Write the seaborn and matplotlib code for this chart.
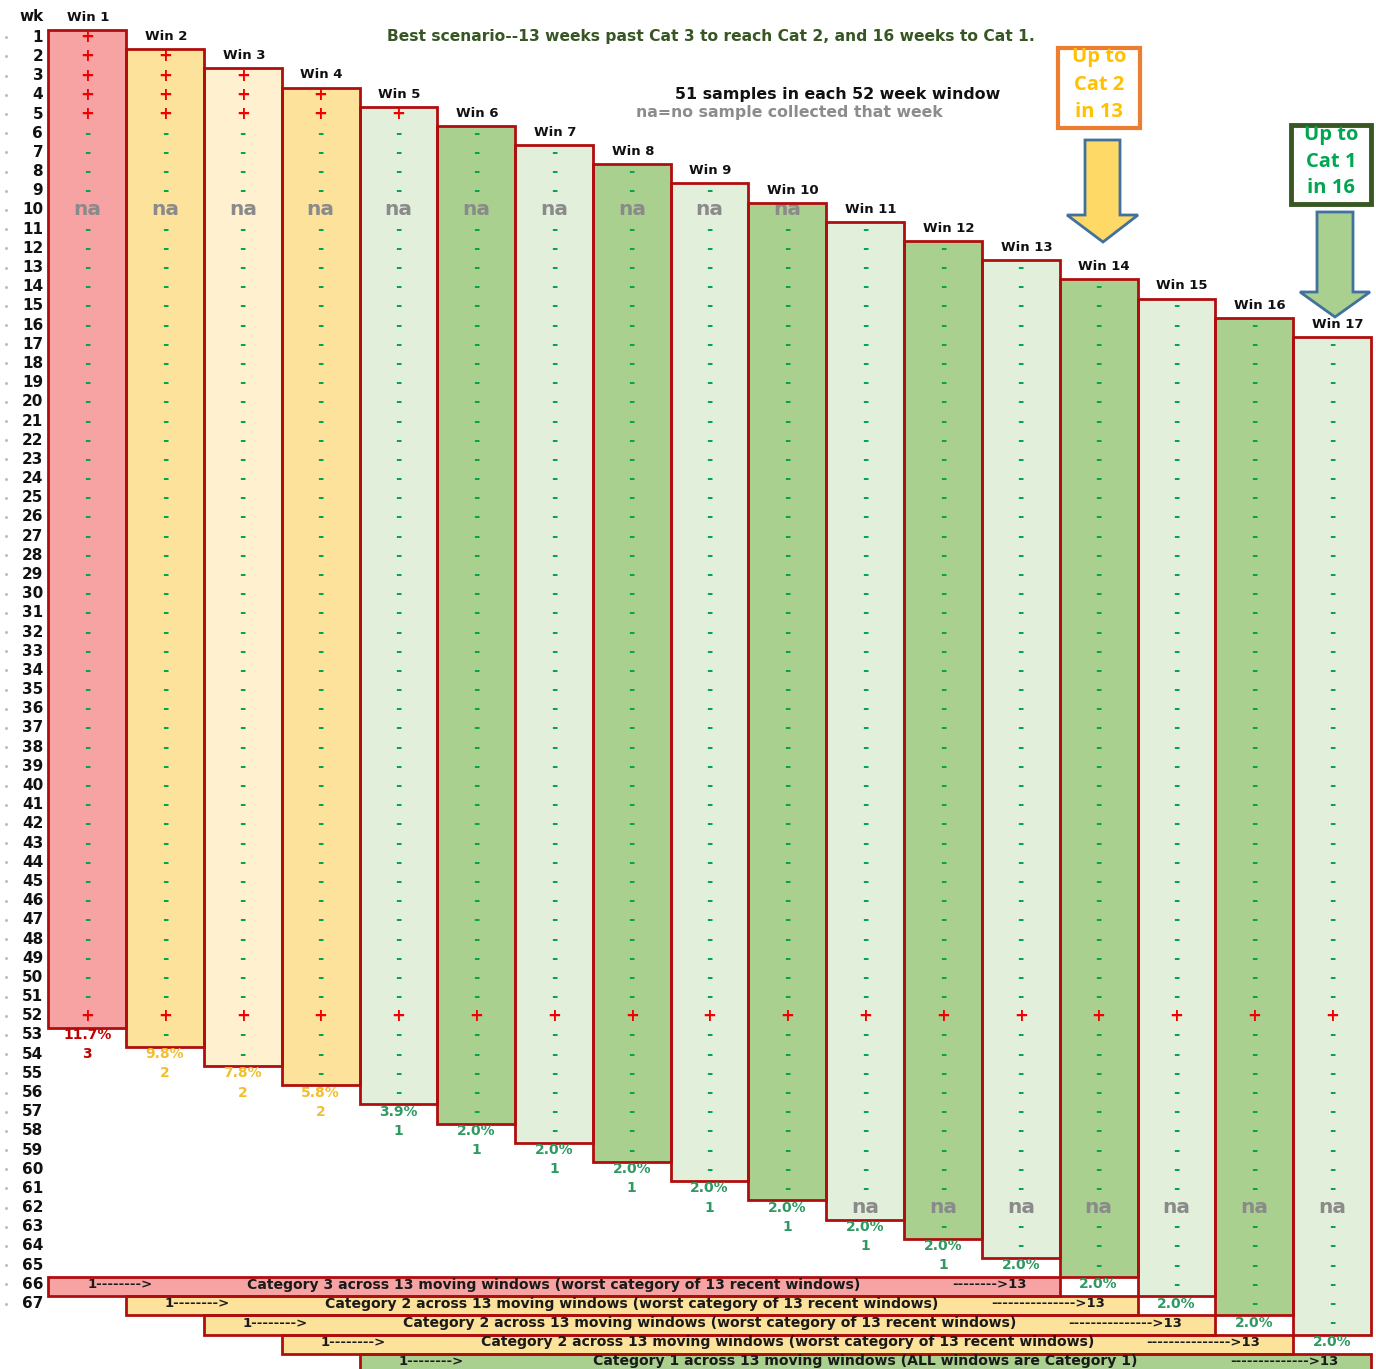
import numpy as np
import matplotlib
matplotlib.use("Agg")
import matplotlib.pyplot as plt
from matplotlib.colors import ListedColormap
from matplotlib.patches import Rectangle, Polygon
import seaborn as sns

# rows = weeks, columns = 52 week moving windows
n_rows = 70
week_labels = list(range(1, 68))
window_names = [f"Win {i}" for i in range(1, 18)]
window_len = 52
positive_weeks = [1, 2, 3, 4, 5, 52]
na_weeks = [10, 62]

pct_labels = ["11.7%", "9.8%", "7.8%", "5.8%", "3.9%"] + ["2.0%"] * 12
cat_labels = ["3", "2", "2", "2", "1"] + ["1"] * 12
window_fill = [0, 1, 2, 1, 3, 4, 3, 4, 3, 4, 3, 4, 3, 4, 3, 4, 3]
pct_color = ["#C00000", "#F2BE2E", "#F2BE2E", "#F2BE2E"] + ["#2E9A62"] * 13

band_fill = [0, 1, 1, 1, 4]
band_text = [
    "Category 3 across 13 moving windows (worst category of 13 recent windows)",
    "Category 2 across 13 moving windows (worst category of 13 recent windows)",
    "Category 2 across 13 moving windows (worst category of 13 recent windows)",
    "Category 2 across 13 moving windows (worst category of 13 recent windows)",
    "Category 1 across 13 moving windows (ALL windows are Category 1)",
]
band_start = "1-------->"
band_end = ["-------->13", "--------------->13", "--------------->13",
            "--------------->13", "-------------->13"]
band_span = 13

palette = ["#F7A3A3", "#FDE29C", "#FFF1CF", "#E2EFDA", "#A9D08E"]
border = "#B00E0E"

# build cell colours and marks
fill = np.full((n_rows, len(window_names)), np.nan)
marks = np.full(fill.shape, "", dtype=object)
for c in range(len(window_names)):
    for r in range(c, c + window_len):
        wk = r + 1
        fill[r, c] = window_fill[c]
        if wk in positive_weeks:
            marks[r, c] = "+"
        elif wk in na_weeks:
            marks[r, c] = "na"
        else:
            marks[r, c] = "-"
for b in range(len(band_text)):
    fill[65 + b, b:b + band_span] = band_fill[b]

W, H = 1376, 1369
fig = plt.figure(figsize=(W / 100, H / 100), dpi=100)
ax = fig.add_axes([48.3 / W, (H - 1373) / H, 1322.6 / W, 1343 / H])

sns.heatmap(fill, cmap=ListedColormap(palette), vmin=-0.5, vmax=4.5, cbar=False,
            annot=marks, fmt="", xticklabels=False, yticklabels=False, ax=ax)
ax.axis("off")

for t in ax.texts:
    s = t.get_text()
    x, y = t.get_position()
    t.set_position((x, y - 0.12))
    t.set_fontweight("bold")
    if s == "+":
        t.set_color("#F00000")
        t.set_fontsize(12)
    elif s == "-":
        t.set_color("#00A650")
        t.set_fontsize(11)
    elif s == "na":
        t.set_color("#8A8A8A")
        t.set_fontsize(14.5)

# window borders, headers, percentages
for c, name in enumerate(window_names):
    ax.add_patch(Rectangle((c, c), 1, window_len, fill=False, ec=border, lw=2, zorder=3,
                           clip_on=False))
    ax.text(c + 0.24, c - 0.66, name, ha="left", va="center", fontsize=9.5,
            fontweight="bold", color="#111111")
    for r, s in [(c + window_len, pct_labels[c]), (c + window_len + 1, cat_labels[c])]:
        if r < n_rows and np.isnan(fill[r, c]):
            ax.text(c + 0.5, r + 0.38, s, ha="center", va="center", fontsize=10,
                    fontweight="bold", color=pct_color[c])

# category bands
for b, txt in enumerate(band_text):
    r = 65 + b
    ax.add_patch(Rectangle((b, r), band_span, 1, fill=False, ec=border, lw=2, zorder=3,
                           clip_on=False))
    kw = dict(va="center", fontsize=9.5, fontweight="bold", color="#1A1A1A")
    ax.text(b + 0.5, r + 0.4, band_start, ha="left", **kw)
    ax.text(b + band_span / 2, r + 0.4, txt, ha="center",
            **{**kw, "fontsize": 10.1})
    ax.text(b + band_span - 0.42, r + 0.4, band_end[b], ha="right", **kw)

# week numbers
for w in week_labels:
    ax.text(-0.065, w - 1 + 0.38, str(w), ha="right", va="center", fontsize=11,
            fontweight="bold", color="#111111")
    ax.plot([-0.55], [w - 1 + 0.38], marker="s", ms=1, color="#BBBBBB", clip_on=False)
ax.text(-0.065, -0.68, "wk", ha="right", va="center", fontsize=11,
        fontweight="bold", color="#111111")

# annotations in pixel coordinates
ov = fig.add_axes([0, 0, 1, 1], zorder=5)
ov.set_xlim(0, W)
ov.set_ylim(H, 0)
ov.axis("off")
ov.patch.set_alpha(0)

ov.text(711, 37, "Best scenario--13 weeks past Cat 3 to reach Cat 2, and 16 weeks to Cat 1.",
        ha="center", va="center", fontsize=11.2, fontweight="bold", color="#375623")
ov.text(838, 95, "51 samples in each 52 week window", ha="center", va="center",
        fontsize=11.4, fontweight="bold", color="#111111")
ov.text(789, 113, "na=no sample collected that week", ha="center", va="center",
        fontsize=11.3, fontweight="semibold", color="#8C8C8C")

ov.add_patch(Rectangle((1058, 48), 82, 80, fill=False, ec="#ED7D31", lw=3))
for y, s in zip([57, 85, 112], ["Up to", "Cat 2", "in 13"]):
    ov.text(1099, y, s, ha="center", va="center", fontsize=14.5, fontweight="bold",
            color="#FFC000", family="Open Sans")
ov.add_patch(Polygon([(1085, 140), (1120, 140), (1120, 215), (1138, 215), (1103, 242),
                      (1067, 215), (1085, 215)], closed=True, fc="#FFD966", ec="#41719C", lw=2))

ov.add_patch(Rectangle((1291, 125), 80, 79, fill=False, ec="#385723", lw=3.5))
for y, s in zip([135, 162, 188], ["Up to", "Cat 1", "in 16"]):
    ov.text(1331, y, s, ha="center", va="center", fontsize=14.5, fontweight="bold",
            color="#00A650", family="Open Sans")
ov.add_patch(Polygon([(1317, 212), (1353, 212), (1353, 292), (1370, 292), (1335, 317),
                      (1300, 292), (1317, 292)], closed=True, fc="#A9D08E", ec="#41719C", lw=2))

fig.savefig("out.png", dpi=100, facecolor="white")
